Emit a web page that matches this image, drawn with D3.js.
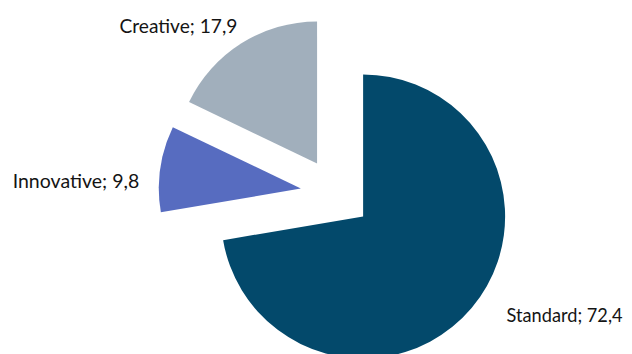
<!DOCTYPE html>
<html>
<head>
<meta charset="utf-8">
<script src="https://cdn.jsdelivr.net/npm/d3@7"></script>
<style>
  html, body { margin: 0; padding: 0; background: #ffffff; }
  svg { display: block; }
  text { font-family: Lato, "Open Sans", sans-serif; fill: #141414; }
</style>
</head>
<body>
<svg id="chart" width="632" height="354"></svg>
<script>
// Share of products by type
const categories = ["Standard", "Innovative", "Creative"];
const values = [72.4, 9.8, 17.9];
const valueLabels = ["72,4", "9,8", "17,9"];
const colors = ["#03496b", "#576cc0", "#a1afbc"];

const width = 632, height = 354;
const cx = 336, cy = 193.5;
const radius = 142;
const explode = 35.5;

// label placement relative to each slice's outer mid-point
const labelOffsets = [
  { dx: 35, dy: 14, anchor: "start", len: 116 },
  { dx: -21, dy: 19, anchor: "end", len: 126.6 },
  { dx: -4, dy: -10, anchor: "end", len: 118 }
];

const svg = d3.select("#chart");
const g = svg.append("g").attr("transform", `translate(${cx},${cy})`);

const pie = d3.pie().sort(null).value(d => d.value).startAngle(0).endAngle(2 * Math.PI);
const arc = d3.arc().innerRadius(0).outerRadius(radius);

const data = categories.map((c, i) => ({ name: c, value: values[i], label: valueLabels[i], color: colors[i], off: labelOffsets[i] }));
const arcs = pie(data);

function dir(a) { return [Math.sin(a), -Math.cos(a)]; }

const slices = g.selectAll("g.slice").data(arcs).join("g")
  .attr("class", "slice")
  .attr("transform", d => {
    const m = (d.startAngle + d.endAngle) / 2;
    const [x, y] = dir(m);
    return `translate(${x * explode},${y * explode})`;
  });

slices.append("path")
  .attr("d", arc)
  .attr("fill", d => d.data.color);

slices.append("text")
  .attr("x", d => dir((d.startAngle + d.endAngle) / 2)[0] * radius + d.data.off.dx)
  .attr("y", d => dir((d.startAngle + d.endAngle) / 2)[1] * radius + d.data.off.dy)
  .attr("text-anchor", d => d.data.off.anchor)
  .attr("font-size", 19)
  .attr("textLength", d => d.data.off.len)
  .attr("lengthAdjust", "spacingAndGlyphs")
  .text(d => `${d.data.name}; ${d.data.label}`);
</script>
</body>
</html>
